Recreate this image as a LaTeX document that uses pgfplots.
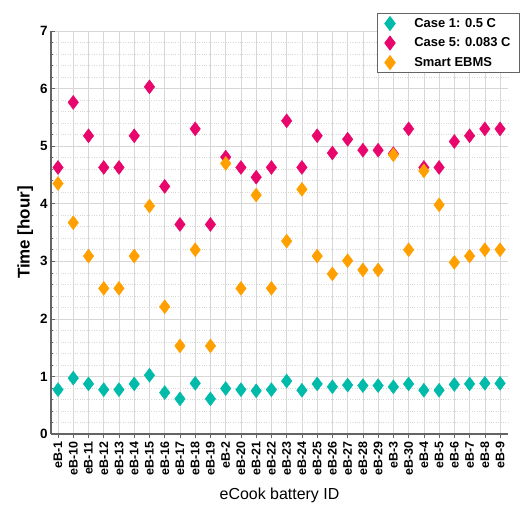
\documentclass[border=0pt]{standalone}
\usepackage{pgfplots}
\pgfplotsset{compat=1.18}
\usepackage{pgfplotstable}
\usepackage{fontspec}
\setmainfont{Liberation Sans}
\definecolor{cteal}{RGB}{0,186,170}
\definecolor{cpink}{RGB}{232,5,108}
\definecolor{corange}{RGB}{255,160,0}
\definecolor{axgray}{RGB}{100,100,100}
\definecolor{gridgray}{RGB}{215,215,215}

\pgfplotstableread{
idx caseone casefive smart
0  0.77 4.63 4.35
1  0.97 5.76 3.67
2  0.87 5.18 3.09
3  0.77 4.63 2.53
4  0.77 4.63 2.53
5  0.87 5.18 3.09
6  1.02 6.03 3.96
7  0.72 4.30 2.21
8  0.61 3.64 1.53
9  0.88 5.30 3.20
10 0.61 3.64 1.53
11 0.79 4.81 4.70
12 0.77 4.63 2.53
13 0.75 4.46 4.15
14 0.77 4.63 2.53
15 0.92 5.44 3.35
16 0.76 4.63 4.25
17 0.87 5.18 3.09
18 0.82 4.88 2.78
19 0.85 5.12 3.01
20 0.84 4.93 2.85
21 0.84 4.93 2.85
22 0.82 4.87 4.85
23 0.87 5.30 3.20
24 0.76 4.63 4.57
25 0.76 4.63 3.98
26 0.86 5.08 2.98
27 0.87 5.18 3.09
28 0.88 5.30 3.20
29 0.88 5.30 3.20
}\datatable

\begin{document}
\begin{tikzpicture}
\begin{axis}[
  scale only axis,
  width=457bp, height=403bp,
  xmin=-0.46, xmax=29.52,
  ymin=0, ymax=7,
  axis lines*=left,
  axis line style={axgray, line width=1.2pt},
  xtick={0,...,29},
  xticklabels={eB-1,eB-10,eB-11,eB-12,eB-13,eB-14,eB-15,eB-16,eB-17,eB-18,eB-19,eB-2,eB-20,eB-21,eB-22,eB-23,eB-24,eB-25,eB-26,eB-27,eB-28,eB-29,eB-3,eB-30,eB-4,eB-5,eB-6,eB-7,eB-8,eB-9},
  ytick={0,...,7},
  minor y tick num=4,
  /pgf/number format/assume math mode=true,
  tick style={axgray, line width=0.6pt},
  major tick length=3.5bp,
  minor tick length=2bp,
  xtick align=outside,
  ytick align=inside,
  xticklabel style={rotate=90, anchor=east, font=\bfseries\fontsize{12.5}{13}\selectfont, inner sep=4bp},
  yticklabel style={font=\bfseries\fontsize{13.5}{14}\selectfont},
  grid=both,
  major grid style={gridgray, line width=0.6pt},
  minor grid style={gridgray, dotted, line width=0.6pt},
  xlabel={eCook battery ID},
  ylabel={\bfseries Time [hour]},
  xlabel style={font=\fontsize{16}{17}\selectfont, yshift=-5bp},
  ylabel style={font=\fontsize{17}{18}\selectfont},
  legend style={at={(rel axis cs:1.026,1.045)}, anchor=north east, draw=axgray, line width=0.8pt, fill=white,
    font=\bfseries\fontsize{13}{14}\selectfont, row sep=5bp, inner xsep=7bp, inner ysep=3bp,
    /tikz/every odd column/.append style={column sep=17bp}},
  legend cell align=left,
  every axis plot/.append style={only marks, mark=diamond*, mark size=7bp},
]
\addplot[cteal, mark options={fill=cteal, draw=cteal}] table[x=idx, y=caseone] {\datatable};
\addlegendentry{Case 1: 0.5 C}
\addplot[cpink, mark options={fill=cpink, draw=cpink}] table[x=idx, y=casefive] {\datatable};
\addlegendentry{Case 5: 0.083 C}
\addplot[corange, mark options={fill=corange, draw=corange}] table[x=idx, y=smart] {\datatable};
\addlegendentry{Smart EBMS}
\end{axis}
\pgfresetboundingbox
\path (-51bp,-76bp) rectangle (470bp,434bp);
\end{tikzpicture}
\end{document}
